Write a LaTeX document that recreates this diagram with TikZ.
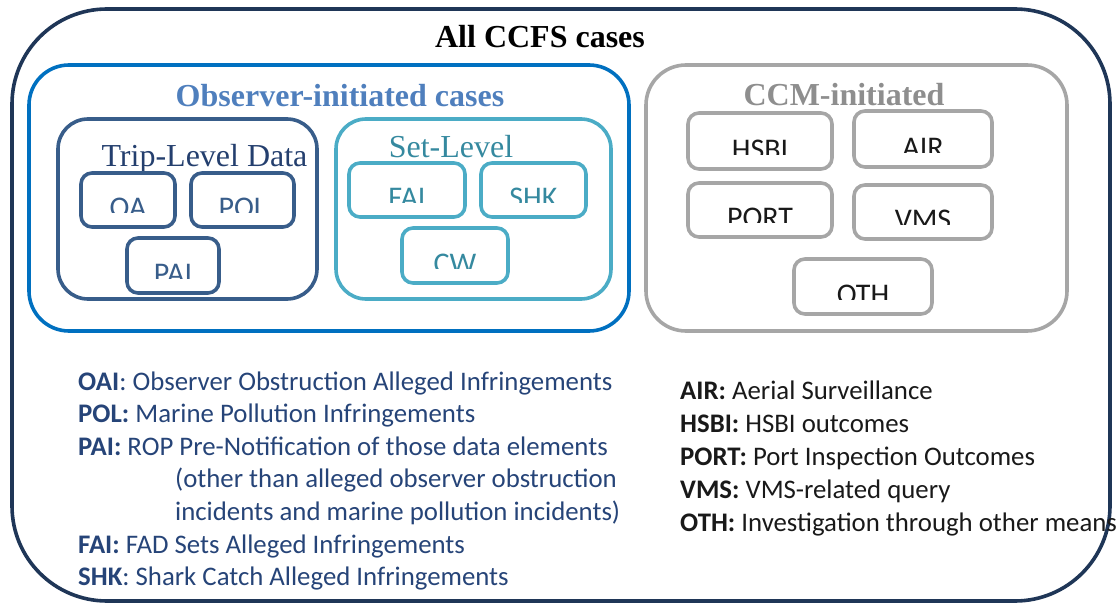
\documentclass[tikz,border=0pt]{standalone}
\usepackage{fontspec}
\setmainfont{Liberation Serif}
\newfontfamily\calibri{Carlito}
\usepackage{xcolor}

\definecolor{navy}{HTML}{1F3657}
\definecolor{obsblue}{HTML}{0070C0}
\definecolor{obstitle}{HTML}{4F7FBD}
\definecolor{tripblue}{HTML}{385D8A}
\definecolor{triptext}{HTML}{243F6E}
\definecolor{setaqua}{HTML}{4BACC6}
\definecolor{settext}{HTML}{35899F}
\definecolor{ccmgrey}{HTML}{A6A6A6}
\definecolor{ccmtext}{HTML}{8E8E8E}
\definecolor{legblue}{HTML}{264478}

\newcommand{\tagfont}{\calibri\fontsize{30}{36}\selectfont}

\begin{document}
\begin{tikzpicture}[x=1pt, y=-1pt,
  panel/.style={draw=#1, line width=3.6pt, inner sep=0pt},
  heading/.style={anchor=base, inner sep=0pt, font=\fontsize{32}{38}\selectfont},
  % small code boxes: label is cut off just above its baseline
  tag/.style n args={3}{draw=#1, line width=3.6pt, rounded corners=11pt,
    inner sep=0pt, path picture={
      \clip ([yshift=14pt]path picture bounding box.south west)
        rectangle (path picture bounding box.north east);
      \node[font=\tagfont, text=#2, anchor=base, inner sep=0pt]
        at ([yshift=9.5pt]path picture bounding box.south) {#3};}},
  legend/.style={anchor=base west, inner sep=0pt, font=\calibri\fontsize{26.8}{32}\selectfont}
]
\useasboundingbox (0,0) rectangle (1120,604);

% containers
\node[panel=navy, rounded corners=95pt, minimum width=1098pt, minimum height=592pt] (all) at (561,305) {};
\node[panel=obsblue, rounded corners=40pt, minimum width=600pt, minimum height=266pt] (obs) at (329,198) {};
\node[panel=tripblue, rounded corners=30pt, minimum width=259pt, minimum height=180pt] (trip) at (187.5,209) {};
\node[panel=setaqua, rounded corners=30pt, minimum width=275pt, minimum height=180pt] (set) at (473.5,209) {};
\node[panel=ccmgrey, rounded corners=40pt, minimum width=421pt, minimum height=266pt] (ccm) at (856.5,198) {};

% headings
\node[heading, font=\bfseries\fontsize{32}{38}\selectfont] (allT) at (540,48) {All CCFS cases};
\node[heading, font=\bfseries\fontsize{32}{38}\selectfont, text=obstitle] (obsT) at (340,107) {Observer-initiated cases};
\node[heading, text=triptext] (tripT) at (204.5,167) {Trip-Level Data};
\node[heading, text=settext] (setT) at (451,158) {Set-Level};
\node[heading, font=\bfseries\fontsize{32}{38}\selectfont, text=ccmtext] (ccmT) at (844,106) {CCM-initiated};

% trip-level codes
\node[tag={tripblue}{tripblue}{OA}, minimum width=94pt, minimum height=54pt] (oa) at (128,200) {};
\node[tag={tripblue}{tripblue}{POL}, minimum width=103pt, minimum height=54pt] (pol) at (242.5,200) {};
\node[tag={tripblue}{tripblue}{PAI}, minimum width=92pt, minimum height=55pt] (pai) at (173,265.5) {};

% set-level codes
\node[tag={setaqua}{settext}{FAI}, minimum width=116pt, minimum height=54pt] (fai) at (407,190) {};
\node[tag={setaqua}{settext}{SHK}, minimum width=105pt, minimum height=54pt] (shk) at (533.5,190) {};
\node[tag={setaqua}{settext}{CW}, minimum width=106pt, minimum height=55pt] (cw) at (455,255.5) {};

% CCM codes
\node[tag={ccmgrey}{black!90}{HSBI}, minimum width=144pt, minimum height=56pt] (hsbi) at (760,141) {};
\node[tag={ccmgrey}{black!90}{AIR}, minimum width=138pt, minimum height=56pt] (air) at (923,139) {};
\node[tag={ccmgrey}{black!90}{PORT}, minimum width=144pt, minimum height=54pt] (port) at (760,210) {};
\node[tag={ccmgrey}{black!90}{VMS}, minimum width=138pt, minimum height=54pt] (vms) at (923,212) {};
\node[tag={ccmgrey}{black!90}{OTH}, minimum width=138pt, minimum height=55pt] (oth) at (863,286.5) {};

% abbreviations
\foreach \txt [count=\i from 0] in {
  {\textbf{OAI}: Observer Obstruction Alleged Infringements},
  {\textbf{POL:} Marine Pollution Infringements},
  {\textbf{PAI:} ROP Pre-Notification of those data elements},
  {\hspace*{97pt}(other than alleged observer obstruction},
  {\hspace*{97pt}incidents and marine pollution incidents)},
  {\textbf{FAI:} FAD Sets Alleged Infringements},
  {\textbf{SHK}: Shark Catch Alleged Infringements}}
  \node[legend, text=legblue] (obsdef\i) at (78,390+32.6*\i) {\txt};

\foreach \txt [count=\i from 0] in {
  {\textbf{AIR:} Aerial Surveillance},
  {\textbf{HSBI:} HSBI outcomes},
  {\textbf{PORT:} Port Inspection Outcomes},
  {\textbf{VMS:} VMS-related query},
  {\textbf{OTH:} Investigation through other means}}
  \node[legend, text=black!90] (ccmdef\i) at (680,399+33*\i) {\txt};
\end{tikzpicture}
\end{document}
